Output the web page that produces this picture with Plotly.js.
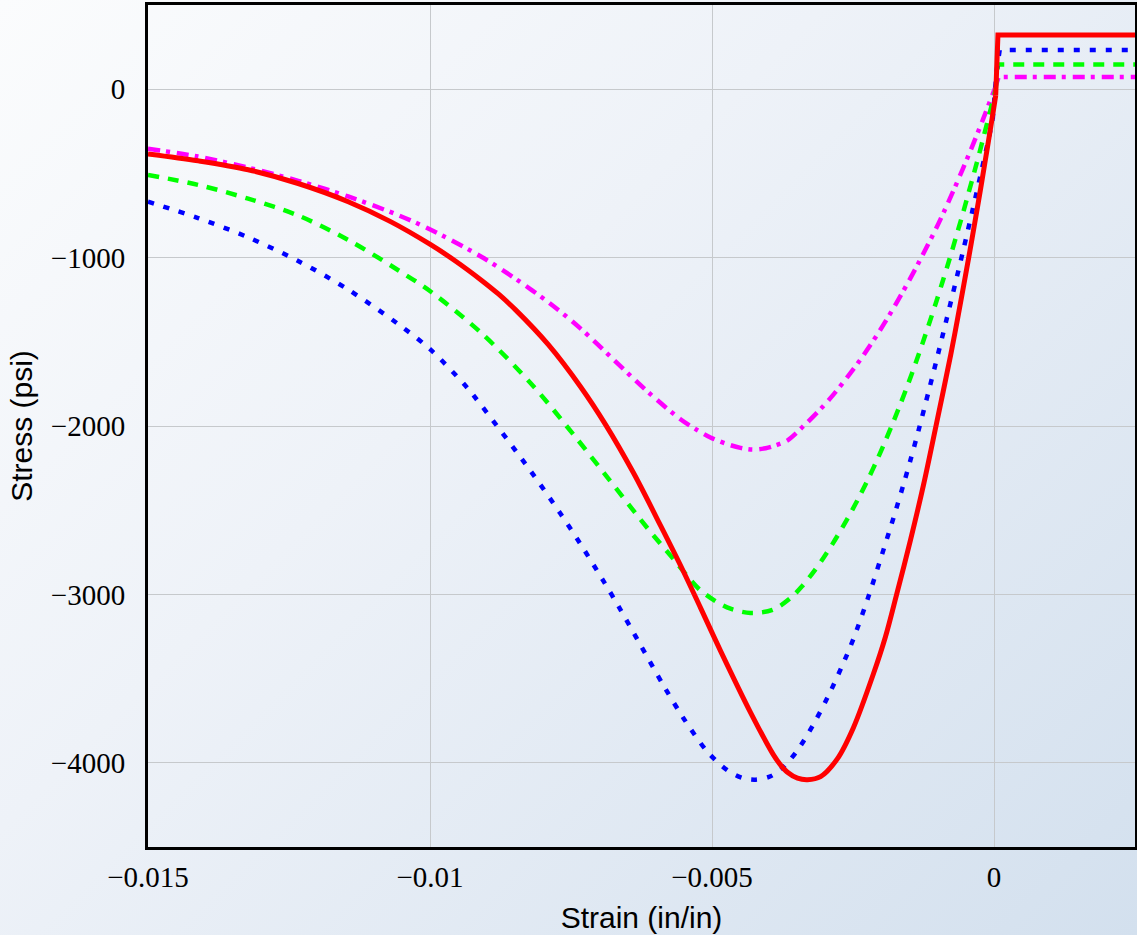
<!DOCTYPE html>
<html>
<head>
<meta charset="utf-8">
<script src="https://cdn.plot.ly/plotly-3.0.1.min.js"></script>
<style>
  html, body { margin: 0; padding: 0; }
  body { width: 1137px; height: 935px; overflow: hidden;
         background: linear-gradient(135deg, #fbfcfd 0%, #eef2f8 40%, #d3e0ee 100%); }
  #chart { width: 1137px; height: 935px; }
</style>
</head>
<body>
<div id="chart"></div>
<script>
// Red (solid) curve - compression branch
const redX = [-0.015, -0.014113, -0.013224, -0.012337, -0.01145, -0.010707, -0.009995, -0.00955, -0.00909, -0.008788,
  -0.008487, -0.007902,
  -0.007334, -0.00689, -0.006393, -0.005914, -0.005523, -0.005203, -0.004849, -0.004318, -0.00391, -0.003786,
  -0.003662, -0.003484, -0.003307, -0.003075, -0.002775, -0.002491, -0.002136, -0.001923, -0.001726, -0.00148,
  -0.001249, -0.001024, -0.000768, -0.000644, -0.000449, -0.000325, -0.000236, -0.000112, -0.000005, 0.00003];
const redY = [-384, -425, -478, -560, -668, -785, -922, -1020, -1134, -1216,
  -1309, -1517,
  -1765, -1990, -2278, -2590, -2852, -3080, -3335, -3700, -3953, -4012,
  -4056, -4091, -4100, -4082, -3975, -3790, -3470, -3250, -3000, -2676,
  -2348, -1992, -1579, -1360, -1001, -763, -588, -336, -113, -38];
// Red tension branch
const redTX = [0.00003, 0.00007, 0.0025];
const redTY = [-38, 322, 322];

// Blue (dotted)
const blueX = [-0.015, -0.014113, -0.013224, -0.012337, -0.01145, -0.010563, -0.009995, -0.009374, -0.009108, -0.008221,
  -0.007688, -0.007334, -0.006926, -0.006624, -0.006269, -0.005861, -0.005506, -0.00508, -0.004725, -0.004459,
  -0.004228, -0.003962, -0.003749, -0.003483, -0.003199, -0.002951, -0.002667, -0.00249, -0.002223, -0.001922,
  -0.001745, -0.001603, -0.001479, -0.001337, -0.00116, -0.001035, -0.000858, -0.00068, -0.000538, -0.000378,
  -0.000236, -0.000112, -0.000023];
const blueY = [-668, -765, -880, -1020, -1190, -1395, -1545, -1760, -1870, -2265,
  -2520, -2700, -2920, -3090, -3300, -3540, -3735, -3935, -4045, -4090,
  -4100, -4080, -4030, -3925, -3770, -3612, -3405, -3262, -3010, -2695,
  -2505, -2345, -2200, -2025, -1795, -1630, -1390, -1145, -945, -715,
  -505, -320, -180];
const blueTX = [-0.000023, 0.000048, 0.000101, 0.0025];
const blueTY = [-180, 114, 233, 233];

// Green (dashed)
const greenX = [-0.015, -0.014113, -0.013224, -0.012337, -0.01145, -0.010563, -0.009995, -0.00909, -0.008203, -0.007458,
  -0.006855, -0.006269, -0.006038, -0.005683, -0.00524, -0.004938, -0.004672, -0.004318, -0.003927, -0.003608,
  -0.003394, -0.003199, -0.003022, -0.002862, -0.002684, -0.002507, -0.002365, -0.002223, -0.002063, -0.001922,
  -0.00178, -0.001655, -0.001513, -0.001389, -0.001265, -0.00116, -0.001035, -0.000911, -0.000804, -0.000715,
  -0.000555, -0.000467, -0.000378, -0.000271, -0.000183, -0.000094, -0.000005, 0.00003];
const greenY = [-509, -568, -650, -750, -895, -1075, -1200, -1448, -1750, -2050,
  -2305, -2555, -2650, -2790, -2965, -3040, -3085, -3110, -3092, -3022,
  -2948, -2866, -2782, -2700, -2600, -2495, -2405, -2309, -2194, -2085,
  -1971, -1866, -1741, -1626, -1507, -1402, -1274, -1142, -1026, -926,
  -741, -635, -527, -394, -280, -165, -47, 0];
const greenTX = [0.00003, 0.00007, 0.0025];
const greenTY = [0, 146, 146];

// Magenta (dash-dot)
const magX = [-0.015, -0.014113, -0.013224, -0.012337, -0.01145, -0.010563, -0.009995, -0.00909, -0.008487, -0.007902,
  -0.007334, -0.006748, -0.006145, -0.005559, -0.005257, -0.005028, -0.004725, -0.004495, -0.004281, -0.00405,
  -0.003873, -0.00366, -0.003376, -0.003075, -0.002844, -0.002543, -0.00233, -0.002064, -0.001869, -0.001621,
  -0.00139, -0.001285, -0.001035, -0.000893, -0.000716, -0.000556, -0.000449, -0.000289, -0.000183, -0.000059,
  0.000012];
const magY = [-354, -400, -466, -544, -637, -748, -833, -995, -1125, -1265,
  -1420, -1605, -1795, -1960, -2025, -2068, -2108, -2130, -2140, -2132,
  -2115, -2085, -2000, -1899, -1812, -1685, -1587, -1454, -1349, -1206,
  -1065, -997, -833, -732, -600, -476, -391, -259, -169, -60,
  0];
const magTX = [0.000012, 0.000083, 0.0025];
const magTY = [0, 73, 73];

const xTickVals = [-0.015, -0.01, -0.005, 0];
const xTickText = ['\u22120.015', '\u22120.01', '\u22120.005', '0'];
const yTickVals = [-4000, -3000, -2000, -1000, 0];
const yTickText = ['\u22124000', '\u22123000', '\u22122000', '\u22121000', '0'];

const RED = '#ff0000', BLUE = '#0000ff', GREEN = '#00ff00', MAG = '#ff00ff';
const blueDash = '6px,10px';
const greenDash = '11px,9px';
const magDash = '12px,6px,4px,7px';

function tr(x, y, color, width, dash, shape) {
  return {x: x, y: y, type: 'scatter', mode: 'lines', hoverinfo: 'skip', showlegend: false,
    line: {color: color, width: width, dash: dash, shape: shape, smoothing: 0.9}};
}

const data = [
  tr(magX, magY, MAG, 4.5, magDash, 'spline'),
  tr(magTX, magTY, MAG, 4.5, magDash, 'linear'),
  tr(greenX, greenY, GREEN, 4.5, greenDash, 'spline'),
  tr(greenTX, greenTY, GREEN, 4.5, greenDash, 'linear'),
  tr(blueX, blueY, BLUE, 4.5, blueDash, 'spline'),
  tr(blueTX, blueTY, BLUE, 4.5, blueDash, 'linear'),
  tr(redX, redY, RED, 5, 'solid', 'spline'),
  tr(redTX, redTY, RED, 5, 'solid', 'linear')
];

const tickFont = {family: '"Liberation Serif", "Times New Roman", serif', size: 29, color: '#000'};
const titleFont = {family: '"Liberation Sans", Arial, sans-serif', size: 30, color: '#000'};

const layout = {
  width: 1137, height: 935,
  margin: {l: 148, r: 2, t: 5, b: 88},
  paper_bgcolor: 'rgba(0,0,0,0)',
  plot_bgcolor: 'rgba(0,0,0,0)',
  showlegend: false,
  xaxis: {
    range: [-0.015, 0.0025],
    tickvals: xTickVals, ticktext: xTickText,
    tickfont: tickFont,
    showgrid: true, gridcolor: '#c6c9cc', gridwidth: 1,
    zeroline: false,
    showline: true, linecolor: '#000', linewidth: 3, mirror: true,
    ticks: '', ticklabelstandoff: 2,
    title: {text: 'Strain (in/in)', font: titleFont, standoff: 16},
    automargin: false
  },
  yaxis: {
    range: [-4500, 500],
    tickvals: yTickVals, ticktext: yTickText,
    tickfont: tickFont,
    showgrid: true, gridcolor: '#c6c9cc', gridwidth: 1,
    zeroline: false,
    showline: true, linecolor: '#000', linewidth: 3, mirror: true,
    ticks: '', ticklabelstandoff: 14,
    title: {text: 'Stress (psi)', font: titleFont, standoff: 10},
    automargin: false
  }
};

Plotly.newPlot('chart', data, layout, {displayModeBar: false, staticPlot: true});
</script>
</body>
</html>
